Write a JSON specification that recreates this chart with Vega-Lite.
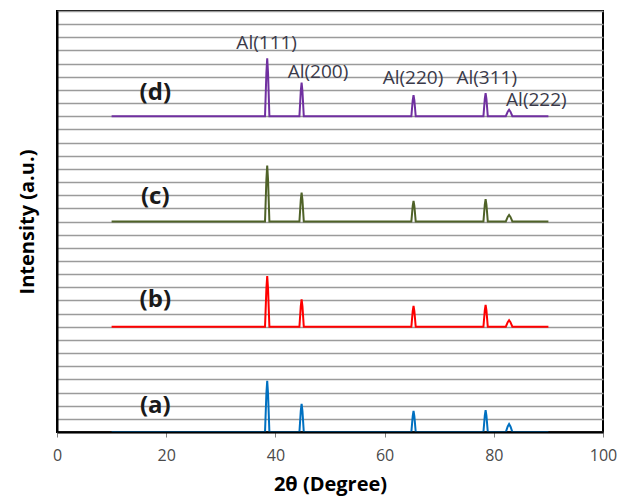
{
  "$schema": "https://vega.github.io/schema/vega-lite/v6.json",
  "width": 546,
  "height": 421,
  "autosize": "none",
  "padding": {"left": 57, "top": 11, "right": 27, "bottom": 66},
  "background": "white",
  "config": {
    "view": {"stroke": "black", "strokeWidth": 2},
    "font": "Open Sans"
  },
  "datasets": {
    "spectra": [
      {"s": "a", "x": 10, "y": 0},
      {"s": "a", "x": 38.1, "y": 0}, {"s": "a", "x": 38.35, "y": 2.93}, {"s": "a", "x": 38.5, "y": 3.9}, {"s": "a", "x": 38.65, "y": 2.93}, {"s": "a", "x": 38.9, "y": 0},
      {"s": "a", "x": 44.4, "y": 0}, {"s": "a", "x": 44.65, "y": 1.6}, {"s": "a", "x": 44.8, "y": 2.13}, {"s": "a", "x": 44.95, "y": 1.6}, {"s": "a", "x": 45.2, "y": 0},
      {"s": "a", "x": 64.9, "y": 0}, {"s": "a", "x": 65.15, "y": 1.2}, {"s": "a", "x": 65.3, "y": 1.6}, {"s": "a", "x": 65.45, "y": 1.2}, {"s": "a", "x": 65.7, "y": 0},
      {"s": "a", "x": 78.1, "y": 0}, {"s": "a", "x": 78.35, "y": 1.25}, {"s": "a", "x": 78.5, "y": 1.67}, {"s": "a", "x": 78.65, "y": 1.25}, {"s": "a", "x": 78.9, "y": 0},
      {"s": "a", "x": 82.2, "y": 0}, {"s": "a", "x": 82.55, "y": 0.42}, {"s": "a", "x": 82.8, "y": 0.6}, {"s": "a", "x": 83.05, "y": 0.42}, {"s": "a", "x": 83.4, "y": 0},
      {"s": "a", "x": 90, "y": 0},

      {"s": "b", "x": 10, "y": 8},
      {"s": "b", "x": 38.1, "y": 8}, {"s": "b", "x": 38.35, "y": 10.9}, {"s": "b", "x": 38.5, "y": 11.86}, {"s": "b", "x": 38.65, "y": 10.9}, {"s": "b", "x": 38.9, "y": 8},
      {"s": "b", "x": 44.4, "y": 8}, {"s": "b", "x": 44.65, "y": 9.57}, {"s": "b", "x": 44.8, "y": 10.09}, {"s": "b", "x": 44.95, "y": 9.57}, {"s": "b", "x": 45.2, "y": 8},
      {"s": "b", "x": 64.9, "y": 8}, {"s": "b", "x": 65.15, "y": 9.19}, {"s": "b", "x": 65.3, "y": 9.58}, {"s": "b", "x": 65.45, "y": 9.19}, {"s": "b", "x": 65.7, "y": 8},
      {"s": "b", "x": 78.1, "y": 8}, {"s": "b", "x": 78.35, "y": 9.25}, {"s": "b", "x": 78.5, "y": 9.66}, {"s": "b", "x": 78.65, "y": 9.25}, {"s": "b", "x": 78.9, "y": 8},
      {"s": "b", "x": 82.2, "y": 8}, {"s": "b", "x": 82.55, "y": 8.35}, {"s": "b", "x": 82.8, "y": 8.5}, {"s": "b", "x": 83.05, "y": 8.35}, {"s": "b", "x": 83.4, "y": 8},
      {"s": "b", "x": 90, "y": 8},

      {"s": "c", "x": 10, "y": 16},
      {"s": "c", "x": 38.1, "y": 16}, {"s": "c", "x": 38.35, "y": 19.19}, {"s": "c", "x": 38.5, "y": 20.25}, {"s": "c", "x": 38.65, "y": 19.19}, {"s": "c", "x": 38.9, "y": 16},
      {"s": "c", "x": 44.4, "y": 16}, {"s": "c", "x": 44.65, "y": 17.65}, {"s": "c", "x": 44.8, "y": 18.2}, {"s": "c", "x": 44.95, "y": 17.65}, {"s": "c", "x": 45.2, "y": 16},
      {"s": "c", "x": 64.9, "y": 16}, {"s": "c", "x": 65.15, "y": 17.18}, {"s": "c", "x": 65.3, "y": 17.57}, {"s": "c", "x": 65.45, "y": 17.18}, {"s": "c", "x": 65.7, "y": 16},
      {"s": "c", "x": 78.1, "y": 16}, {"s": "c", "x": 78.35, "y": 17.28}, {"s": "c", "x": 78.5, "y": 17.7}, {"s": "c", "x": 78.65, "y": 17.28}, {"s": "c", "x": 78.9, "y": 16},
      {"s": "c", "x": 82.2, "y": 16}, {"s": "c", "x": 82.55, "y": 16.35}, {"s": "c", "x": 82.8, "y": 16.5}, {"s": "c", "x": 83.05, "y": 16.35}, {"s": "c", "x": 83.4, "y": 16},
      {"s": "c", "x": 90, "y": 16},

      {"s": "d", "x": 10, "y": 24},
      {"s": "d", "x": 38.1, "y": 24}, {"s": "d", "x": 38.35, "y": 27.3}, {"s": "d", "x": 38.5, "y": 28.4}, {"s": "d", "x": 38.65, "y": 27.3}, {"s": "d", "x": 38.9, "y": 24},
      {"s": "d", "x": 44.4, "y": 24}, {"s": "d", "x": 44.65, "y": 25.92}, {"s": "d", "x": 44.8, "y": 26.56}, {"s": "d", "x": 44.95, "y": 25.92}, {"s": "d", "x": 45.2, "y": 24},
      {"s": "d", "x": 64.9, "y": 24}, {"s": "d", "x": 65.15, "y": 25.2}, {"s": "d", "x": 65.3, "y": 25.6}, {"s": "d", "x": 65.45, "y": 25.2}, {"s": "d", "x": 65.7, "y": 24},
      {"s": "d", "x": 78.1, "y": 24}, {"s": "d", "x": 78.35, "y": 25.32}, {"s": "d", "x": 78.5, "y": 25.76}, {"s": "d", "x": 78.65, "y": 25.32}, {"s": "d", "x": 78.9, "y": 24},
      {"s": "d", "x": 82.2, "y": 24}, {"s": "d", "x": 82.55, "y": 24.35}, {"s": "d", "x": 82.8, "y": 24.5}, {"s": "d", "x": 83.05, "y": 24.35}, {"s": "d", "x": 83.4, "y": 24},
      {"s": "d", "x": 90, "y": 24}
    ],
    "seriesLabels": [
      {"label": "(a)", "x": 18, "y": 1.95},
      {"label": "(b)", "x": 18, "y": 10.05},
      {"label": "(c)", "x": 18, "y": 17.85},
      {"label": "(d)", "x": 18, "y": 25.8}
    ],
    "peakLabels": [
      {"label": "Al(111)", "x": 38.4, "y": 29.6},
      {"label": "Al(200)", "x": 47.8, "y": 27.4},
      {"label": "Al(220)", "x": 65.2, "y": 26.9},
      {"label": "Al(311)", "x": 78.7, "y": 26.9},
      {"label": "Al(222)", "x": 87.8, "y": 25.2}
    ]
  },
  "encoding": {
    "x": {
      "field": "x",
      "type": "quantitative",
      "scale": {"domain": [0, 100], "nice": false, "zero": false},
      "axis": {
        "values": [0, 20, 40, 60, 80, 100],
        "grid": false,
        "domainColor": "black",
        "domainWidth": 2,
        "tickColor": "#7f7f7f",
        "tickSize": 5,
        "labelFlush": false,
        "labelColor": "#4a4a4a",
        "labelFontSize": 16,
        "labelPadding": 10,
        "title": "2θ (Degree)",
        "titleFontSize": 20,
        "titleFontWeight": "bold",
        "titleColor": "black",
        "titlePadding": 11,
        "zindex": 1
      }
    },
    "y": {
      "field": "y",
      "type": "quantitative",
      "scale": {"domain": [0, 32], "nice": false, "zero": false},
      "axis": {
        "values": [0, 1, 2, 3, 4, 5, 6, 7, 8, 9, 10, 11, 12, 13, 14, 15, 16, 17, 18, 19, 20, 21, 22, 23, 24, 25, 26, 27, 28, 29, 30, 31, 32],
        "labels": false,
        "ticks": false,
        "grid": true,
        "gridColor": "#9b9b9b",
        "gridWidth": 1.5,
        "domainColor": "black",
        "domainWidth": 2,
        "title": "Intensity (a.u.)",
        "titleFontSize": 20,
        "titleFontWeight": "bold",
        "titleColor": "black",
        "titlePadding": 20
      }
    }
  },
  "layer": [
    {
      "data": {"name": "spectra"},
      "mark": {"type": "line", "strokeWidth": 2},
      "encoding": {
        "color": {
          "field": "s",
          "type": "nominal",
          "scale": {"domain": ["a", "b", "c", "d"], "range": ["#0070c0", "#ff0000", "#4f6228", "#7030a0"]},
          "legend": null
        }
      }
    },
    {
      "data": {"name": "seriesLabels"},
      "mark": {"type": "text", "fontSize": 24, "fontWeight": "bold", "color": "#1a1a1a", "align": "center", "baseline": "middle"},
      "encoding": {"text": {"field": "label"}}
    },
    {
      "data": {"name": "peakLabels"},
      "mark": {"type": "text", "fontSize": 19, "color": "#3a3a4a", "align": "center", "baseline": "middle"},
      "encoding": {"text": {"field": "label"}}
    }
  ]
}
